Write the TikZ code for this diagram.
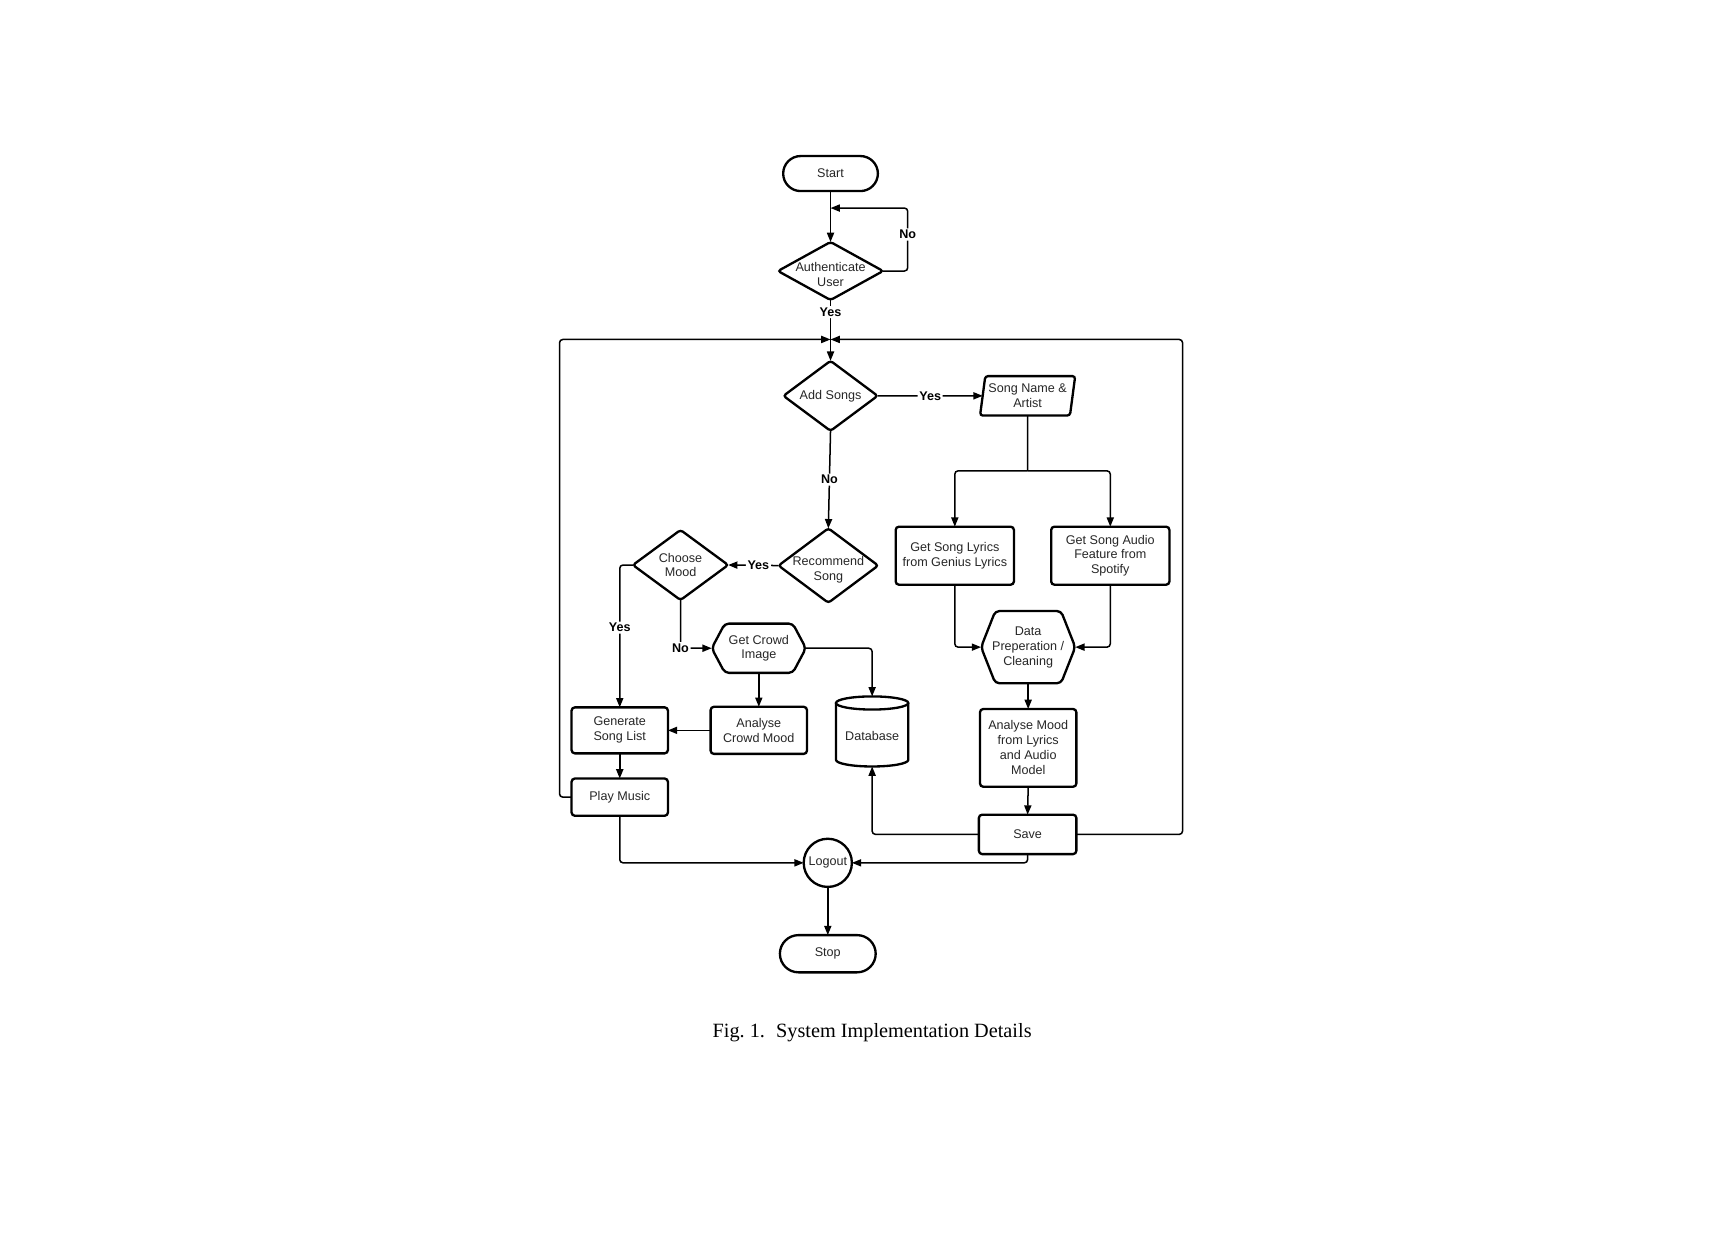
\documentclass[tikz,border=0pt]{standalone}
\usepackage{fontspec}
\setmainfont{Liberation Sans}
\newfontfamily\capfont{Liberation Serif}
\usetikzlibrary{shapes.geometric,shapes.misc,shapes.symbols,arrows.meta}
\begin{document}
\begin{tikzpicture}[x=0.4pt,y=-0.4pt]
\tikzset{
 dfont/.style={font=\fontsize{4.6pt}{5.45pt}\selectfont},
 shp/.style={draw=black, line width=0.85pt, inner sep=0.3pt, outer sep=0pt, dfont, align=center, text=black!85},
 boxs/.style={shp, rectangle, rounded corners=1.2pt},
 term/.style={shp, rounded rectangle},
 dec/.style={shp, diamond, rounded corners=1pt},
 hexs/.style={shp, signal, signal to=west and east, rounded corners=1.5pt},
 iop/.style={shp, trapezium, trapezium left angle=79, trapezium right angle=101, trapezium stretches=true, rounded corners=1pt},
 dbframe/.style={inner sep=0pt, outer sep=0pt, dfont, align=center, text=black!85, text depth=-3.2pt},
 dbline/.style={draw=black, line width=0.85pt},
 intext/.style={dfont, align=center, text=black!85, inner sep=0pt},
 conn/.style={line width=0.55pt, rounded corners=1.2pt, -{Triangle[length=3.4pt,width=2.6pt]}},
 plainln/.style={line width=0.55pt, rounded corners=1.2pt},
 yn/.style={font=\fontsize{4.6pt}{5.45pt}\bfseries\selectfont, fill=white, inner sep=0.6pt},
}
\useasboundingbox (0,0) rectangle (1569,1149);

% nodes
\node[term, minimum width=35.2pt, minimum height=12.8pt] (start) at (758.5,158.5) {Start};
\node[dec, minimum width=38.4pt, minimum height=21.2pt, label={[intext, yshift=-1.2pt]center:{Authenticate\\User}}] (auth) at (758.5,247.5) {};
\node[dec, minimum width=34.4pt, minimum height=25.6pt, label={[intext]center:{Add Songs}}] (addsongs) at (758.5,361.5) {};
\node[iop, minimum width=34.8pt, minimum height=14.4pt] (songname) at (938.5,361.5) {Song Name \&\\Artist};
\node[boxs, minimum width=43.2pt, minimum height=21.2pt] (lyrics) at (872,507.5) {Get Song Lyrics\\from Genius Lyrics};
\node[boxs, minimum width=43.2pt, minimum height=21.2pt] (audio) at (1014,507.5) {Get Song Audio\\Feature from\\Spotify};
\node[hexs, signal pointer angle=137, minimum width=34.4pt, minimum height=26.4pt, label={[intext]center:{Data\\Preperation /\\Cleaning}}] (dataprep) at (939,591) {};
\node[boxs, minimum width=35.2pt, minimum height=28.4pt] (amood) at (939,683) {Analyse Mood\\from Lyrics\\and Audio\\Model};
\node[boxs, minimum width=35.6pt, minimum height=14.4pt] (save) at (938.5,762) {Save};
\node[shp, circle, minimum size=17.6pt] (logout) at (756,788) {Logout};
\node[term, minimum width=35.6pt, minimum height=13.6pt] (stop) at (756,871) {Stop};
\node[dec, minimum width=36.4pt, minimum height=27.2pt, label={[intext, yshift=-1.4pt]center:{Recommend\\Song}}] (recommend) at (756.5,516.5) {};
\node[dec, minimum width=34.8pt, minimum height=25.6pt, label={[intext]center:{Choose\\Mood}}] (choose) at (621.5,516) {};
\node[hexs, signal pointer angle=124, minimum width=34.4pt, minimum height=18pt, label={[intext]center:{Get Crowd\\Image}}] (crowdimg) at (693,592) {};
\node[boxs, minimum width=35.2pt, minimum height=17.2pt] (crowdmood) at (693,667) {Analyse\\Crowd Mood};
\node[boxs, minimum width=35.2pt, minimum height=16.8pt] (genlist) at (566,667) {Generate\\Song List};
\node[boxs, minimum width=35.2pt, minimum height=13.6pt] (play) at (566,728) {Play Music};
\node[inner sep=0pt, outer sep=0pt, minimum width=26.4pt, minimum height=25.6pt, label={[intext, yshift=-1.7pt]center:{Database}}] (db) at (796.5,668) {};
% cylinder outline of the database
\draw[dbline] ([yshift=-2.4pt]db.north) ellipse [x radius=13.2pt, y radius=2.4pt];
\draw[dbline] ([yshift=-2.4pt]db.north west) -- ([yshift=2.4pt]db.south west)
  arc[start angle=180, end angle=360, x radius=13.2pt, y radius=2.4pt] -- ([yshift=-2.4pt]db.north east);

\node[font=\capfont\fontsize{7.4pt}{9pt}\selectfont, inner sep=0pt] (caption) at (796.5,943.5) {Fig.~1.\hspace{0.55em}System Implementation Details};

% helper coordinates
\coordinate (authin) at (758.5,190);
\coordinate (nocorner) at (829,190);
\coordinate (junc) at (758.5,310);
\coordinate (lcorner) at (511,310);
\coordinate (rcorner) at (1080,310);
\coordinate (split) at (938.5,430);

% connectors
\draw[conn] (start.south) -- (auth.north);
\draw[conn] (auth.east) -| node[pos=0.79,yn]{No} (nocorner) -- (authin);
\draw[conn] (auth.south) -- node[pos=0.2,yn]{Yes} (addsongs.north);
\draw[conn] (play.west) -| (lcorner) -- (junc);
\draw[conn] (save.east) -| (rcorner) -- (junc);
\draw[conn] (addsongs.east) -- node[yn]{Yes} (songname.west);
\draw[plainln] (songname.south) -- (split);
\draw[conn] (split) -| (lyrics.north);
\draw[conn] (split) -| (audio.north);
\draw[conn] (lyrics.south) |- (dataprep.west);
\draw[conn] (audio.south) |- (dataprep.east);
\draw[conn] (dataprep.south) -- (amood.north);
\draw[conn] (amood.south) -- (save.north);
\draw[conn] (save.west) -| (db.south);
\draw[conn] (save.south) |- (logout.east);
\draw[conn] (play.south) |- (logout.west);
\draw[conn] (logout.south) -- (stop.north);
\draw[conn] (addsongs.south) -- node[yn]{No} (recommend.north);
\draw[conn] (recommend.west) -- node[pos=0.4,yn]{Yes} (choose.east);
\draw[conn] (choose.west) -| node[pos=0.72,yn]{Yes} (genlist.north);
\draw[conn] (choose.south) |- node[pos=0.5,yn]{No} (crowdimg.west);
\draw[conn] (crowdimg.east) -| (db.north);
\draw[conn] (crowdimg.south) -- (crowdmood.north);
\draw[conn] (crowdmood.west) -- (genlist.east);
\draw[conn] (genlist.south) -- (play.north);
\end{tikzpicture}
\end{document}
